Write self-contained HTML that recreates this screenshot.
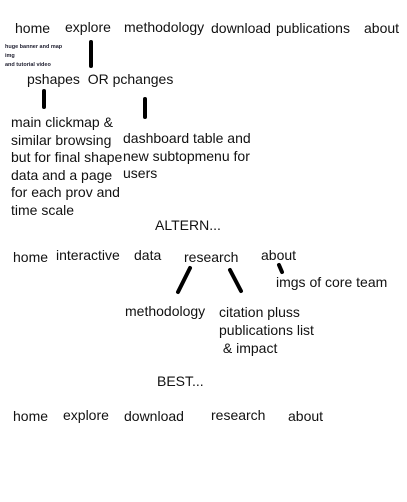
<!DOCTYPE html>
<html><head><meta charset="utf-8"><style>
body{margin:0;width:407px;height:502px;background:#fff;position:relative;overflow:hidden;font-family:"Liberation Sans",sans-serif;color:#111;}
.t{position:absolute;font-size:14px;line-height:16px;white-space:nowrap;}
.s{position:absolute;font-size:5.5px;line-height:9px;white-space:nowrap;font-weight:bold;color:#223;}
.b{position:absolute;background:#000;border-radius:2px;}
</style></head><body>
<div class="t" style="left:15px;top:20px">home</div>
<div class="t" style="left:65px;top:19px">explore</div>
<div class="t" style="left:124px;top:19px">methodology</div>
<div class="t" style="left:211px;top:20px">download</div>
<div class="t" style="left:276px;top:20px">publications</div>
<div class="t" style="left:364px;top:20px">about</div>
<div class="s" style="left:5px;top:43px">huge banner and map<br>img<br>and tutorial video</div>
<div class="b" style="left:89px;top:40px;width:4px;height:28px"></div>
<div class="t" style="left:27px;top:71px">pshapes&nbsp; OR pchanges</div>
<div class="b" style="left:42px;top:89px;width:4px;height:20px"></div>
<div class="b" style="left:143px;top:97px;width:4px;height:22px"></div>
<div class="t" style="left:11px;top:114px;line-height:17.5px">main clickmap &amp;<br>similar browsing<br>but for final shape<br>data and a page<br>for each prov and<br>time scale</div>
<div class="t" style="left:123px;top:130px;line-height:17.5px">dashboard table and<br>new subtopmenu for<br>users</div>
<div class="t" style="left:155px;top:217px">ALTERN...</div>
<div class="t" style="left:13px;top:249px">home</div>
<div class="t" style="left:56px;top:247px">interactive</div>
<div class="t" style="left:134px;top:247px">data</div>
<div class="t" style="left:184px;top:249px">research</div>
<div class="t" style="left:261px;top:247px">about</div>
<svg style="position:absolute;left:0;top:0" width="407" height="502">
<g stroke="#000" stroke-width="4" stroke-linecap="round">
<line x1="190" y1="268" x2="178" y2="292"/>
<line x1="230" y1="270" x2="241" y2="291"/>
<line x1="279" y1="265" x2="282" y2="272"/>
</g></svg>
<div class="t" style="left:276px;top:274px">imgs of core team</div>
<div class="t" style="left:125px;top:303px">methodology</div>
<div class="t" style="left:219px;top:303px;line-height:18px">citation pluss<br>publications list<br>&nbsp;&amp; impact</div>
<div class="t" style="left:157px;top:373px">BEST...</div>
<div class="t" style="left:13px;top:408px">home</div>
<div class="t" style="left:63px;top:407px">explore</div>
<div class="t" style="left:124px;top:408px">download</div>
<div class="t" style="left:211px;top:407px">research</div>
<div class="t" style="left:288px;top:408px">about</div>
</body></html>
